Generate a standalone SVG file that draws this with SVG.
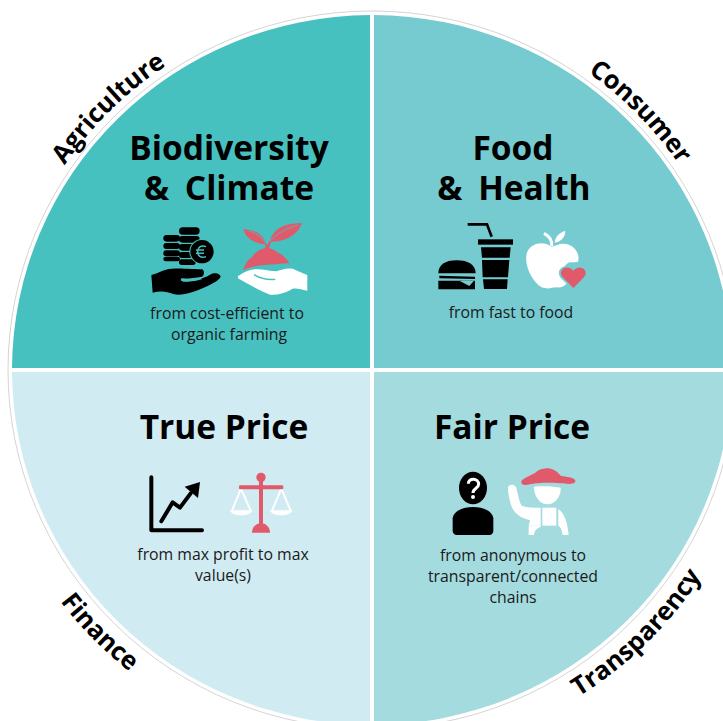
<svg xmlns="http://www.w3.org/2000/svg" width="723" height="721" viewBox="0 0 723 721">
<style>
.t{font-family:"Open Sans","Noto Sans",sans-serif;font-weight:700;font-size:33.500px;fill:#000;text-anchor:middle}
.a{word-spacing:7px}
.s{font-family:"Open Sans","Noto Sans",sans-serif;font-size:15.800px;fill:#1a1a1a;text-anchor:middle}
.l{font-family:"Open Sans","Noto Sans",sans-serif;font-weight:700;font-size:25.500px;fill:#000;text-anchor:middle}
.k{fill:#000}.w{fill:#fff}.p{fill:#e05a6b}
</style>
<defs>
<path id="arcTop" d="M1 370A371 366 0 0 1 743 370"/>
<path id="arcBot" d="M-18 370A390 385 0 0 0 762 370"/>
</defs>
<rect width="723" height="721" fill="#fff"/>
<ellipse cx="372" cy="370" rx="364" ry="359" fill="none" stroke="#c9c9c9" stroke-width=".8"/>
<g id="quadrant-agriculture">
<path d="M370 368V15.030A360 355 0 0 0 12 368Z" fill="#47c1bf"/>
<text class="t" x="229" y="160">Biodiversity</text>
<text class="t a" x="229" y="200">&amp; Climate</text>
<text class="s" x="227" y="319">from cost-efficient to</text>
<text class="s" x="229" y="340">organic farming</text>
<g transform="translate(130 210) scale(.3333)">
<g class="k">
<rect x="100" y="75" width="50" height="20" rx="10"/><rect x="100" y="99" width="50" height="18" rx="9"/><rect x="100" y="121" width="50" height="18" rx="9"/><rect x="100" y="140" width="50" height="14" rx="7"/>
<rect x="147" y="52" width="62" height="22" rx="11"/><rect x="147" y="78" width="62" height="20" rx="10"/><rect x="147" y="102" width="62" height="20" rx="10"/><rect x="147" y="126" width="62" height="18" rx="9"/><rect x="147" y="148" width="50" height="17" rx="8"/>
</g>
<circle cx="216" cy="125" r="38" fill="#47c1bf"/><circle cx="216" cy="125" r="35" class="k"/>
<path d="M228 110C212 104 203 113 203 125S212 146 228 140M198 120H222M198 130H222" fill="none" stroke="#47c1bf" stroke-width="4.500"/>
<path class="k" d="M64 195C85 190 100 177 125 176C155 174 195 178 217 178C224 183 224 196 216 200C195 204 170 206 155 205C150 208 152 213 160 215C185 215 215 208 240 194C255 186 270 190 272 200C268 212 240 225 205 240C180 250 150 258 130 252C110 244 90 242 68 248Z"/>
<path d="M155 210C175 215 195 212 215 206" fill="none" stroke="#47c1bf" stroke-width="4"/>
<path class="p" d="M340 178C345 165 352 148 368 140C372 128 388 118 408 113C425 112 438 125 452 132C465 140 472 150 478 160C450 160 420 165 395 166C375 168 350 174 340 181Z"/>
<path class="p" d="M408 103C402 80 385 60 340 57C345 78 365 100 408 103ZM420 95C425 65 455 38 516 40C505 70 470 98 420 95Z"/>
<path d="M408 103L412 120M420 95L413 115" stroke="#e05a6b" stroke-width="7" fill="none"/>
<path d="M355 62C375 68 395 80 405 98M505 45C470 55 440 70 422 92" stroke="#47c1bf" stroke-width="2.500" fill="none"/>
<path class="w" d="M324 198C340 190 352 180 375 178C400 177 420 184 440 184C455 180 470 173 490 177C505 184 520 190 532 195L532 242C515 238 500 234 488 236C465 250 440 256 420 254C395 245 350 220 324 205Z"/>
<path d="M372 194C390 205 415 210 436 208" fill="none" stroke="#47c1bf" stroke-width="4"/>
</g>
</g>
<g id="quadrant-consumer">
<path d="M374 368V15.010A360 355 0 0 1 732 368Z" fill="#75cbd0"/>
<text class="t" x="513" y="160">Food</text>
<text class="t a" x="514" y="200">&amp; Health</text>
<text class="s" x="511" y="318">from fast to food</text>
<g transform="translate(420 210) scale(.3333)">
<path d="M143 43H201L215 80" fill="none" stroke="#000" stroke-width="8"/>
<g class="k">
<rect x="174" y="88" width="105" height="16"/>
<path d="M183 112H272L269 143H186ZM186 150H268L264 202H188ZM189 208H263L261 237H192Z"/>
<path d="M55 190C55 165 75 151 110 151C145 151 167 165 167 190Z"/>
<path d="M58 197L165 200V207L58 205Z"/>
<path d="M55 212L165 212V238H55Z"/>
</g>
<path d="M120 213L148 219L155 213" stroke="#000" stroke-width="2" fill="#75cbd0"/>
<path d="M118 212L162 212L148 228Z" fill="#75cbd0"/>
<path class="w" d="M395 110C370 92 335 98 322 125C310 155 330 210 365 232C385 240 395 232 410 232C430 235 440 225 450 205C430 190 425 170 445 158C465 155 478 160 475 150C480 125 455 95 420 102C410 106 402 108 395 110Z"/>
<path d="M395 108C397 92 387 78 372 70" fill="none" stroke="#fff" stroke-width="9"/>
<path class="w" d="M404 98C405 80 420 66 436 63C436 82 422 96 404 98Z"/>
<path d="M460 236L424 200C410 180 438 160 460 180C482 160 510 180 496 200Z" fill="#75cbd0" stroke="#75cbd0" stroke-width="8"/>
<path class="p" d="M460 234L427 200C412 182 440 160 460 182C480 160 508 182 493 200Z"/>
</g>
</g>
<g id="quadrant-finance">
<path d="M370 372V724.990A360 355 0 0 1 12 372Z" fill="#d1ebf3"/>
<text class="t" x="224" y="439">True Price</text>
<text class="s" x="223" y="560">from max profit to max</text>
<text class="s" x="223" y="581">value(s)</text>
<g transform="translate(130 460) scale(.3333)">
<path d="M64 52V211H216" fill="none" stroke="#000" stroke-width="12" stroke-linecap="round" stroke-linejoin="round"/>
<path d="M94 184L128 127L150 143L182 100" fill="none" stroke="#000" stroke-width="12" stroke-linecap="round" stroke-linejoin="round"/>
<path class="k" d="M210 66L204 114L164 80Z"/>
<path d="M333 86L306 152M333 86L362 152M454 86L426 152M454 86L482 152" fill="none" stroke="#fff" stroke-width="6"/>
<path class="w" d="M300 151H367C365 170 305 172 300 151ZM420 151H487C485 170 425 172 420 151Z"/>
<circle class="p" cx="393" cy="52" r="14"/>
<rect class="p" x="387" y="55" width="12" height="140"/>
<rect class="p" x="327" y="76" width="133" height="12" rx="4"/>
<path class="p" d="M366 218C366 200 380 190 393 190C406 190 420 200 420 218Z"/>
</g>
</g>
<g id="quadrant-transparency">
<path d="M374 372H732A360 355 0 0 1 374 724.990Z" fill="#a4dbdf"/>
<text class="t" x="512" y="439">Fair Price</text>
<text class="s" x="513" y="561">from anonymous to</text>
<text class="s" x="513" y="582">transparent/connected</text>
<text class="s" x="513" y="603">chains</text>
<g transform="translate(430 455) scale(.3333)">
<ellipse class="k" cx="129" cy="99" rx="42" ry="49"/>
<path class="k" d="M68 190C70 170 95 156 129 156C163 156 188 170 190 190V228C190 235 185 240 178 240H80C73 240 68 235 68 228Z"/>
<path d="M115 86C115 68 146 68 146 88C146 100 129 100 129 114" fill="none" stroke="#fff" stroke-width="9"/>
<circle class="w" cx="129" cy="126" r="6"/>
<path class="p" d="M274 78C285 65 310 60 322 48C345 33 375 38 392 62C410 66 430 66 436 76C438 88 420 88 400 85C370 82 320 82 300 88C285 92 272 90 274 78Z"/>
<path class="w" d="M312 95C340 92 375 94 392 98C394 120 378 147 352 148C330 148 312 125 312 95Z"/>
<path class="w" d="M234 96C240 86 255 88 259 98C264 120 268 140 275 152C290 158 310 158 332 158V212H296L300 196C275 190 250 175 243 150C238 130 233 110 234 96Z"/>
<path class="w" d="M337 158H379V212H337Z"/>
<path class="w" d="M385 162C400 172 412 195 416 240L398 240C396 225 392 216 385 212Z"/>
<path class="w" d="M296 212H332V216C320 220 312 228 312 240H296Z"/>
</g>
</g>
<g id="ring-labels">
<text class="l"><textPath href="#arcTop" startOffset="25%">Agriculture</textPath></text>
<text class="l"><textPath href="#arcTop" startOffset="75.500%">Consumer</textPath></text>
<text class="l"><textPath href="#arcBot" startOffset="24.500%">Finance</textPath></text>
<text class="l"><textPath href="#arcBot" startOffset="75%">Transparency</textPath></text>
</g>
</svg>
